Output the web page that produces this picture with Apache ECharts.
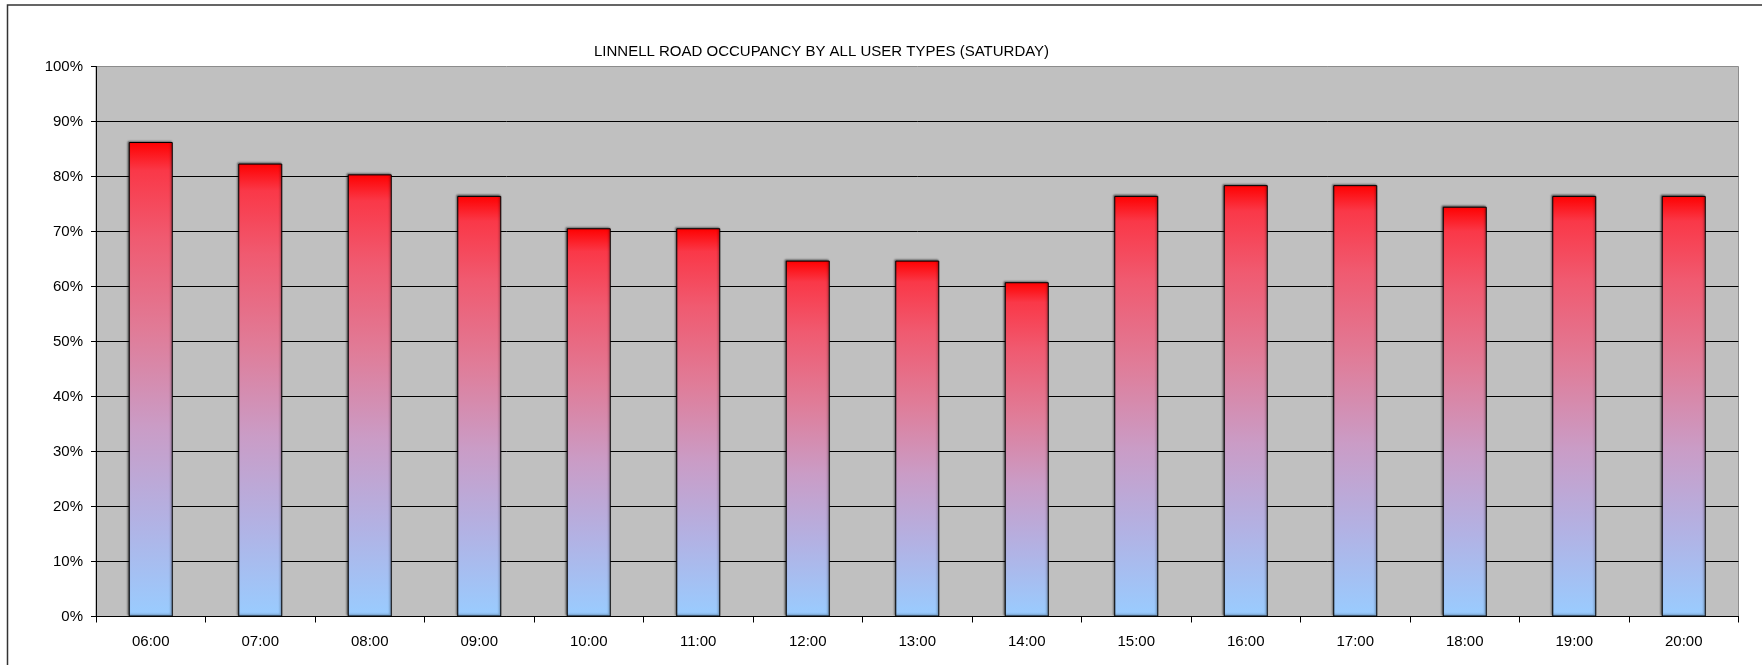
<!DOCTYPE html>
<html>
<head>
<meta charset="utf-8">
<script src="https://cdn.jsdelivr.net/npm/echarts@6/dist/echarts.min.js"></script>
<style>
html,body{margin:0;padding:0;background:#fff;}
#chart{width:1762px;height:665px;}
</style>
</head>
<body>
<div id="chart"></div>
<script>
const titleText = 'LINNELL ROAD OCCUPANCY BY ALL USER TYPES (SATURDAY)';
const categories = ['06:00','07:00','08:00','09:00','10:00','11:00','12:00','13:00','14:00','15:00','16:00','17:00','18:00','19:00','20:00'];
const occupancy = [86.27, 82.35, 80.39, 76.47, 70.59, 70.59, 64.71, 64.71, 60.78, 76.47, 78.43, 78.43, 74.51, 76.47, 76.47];

const chart = echarts.init(document.getElementById('chart'), null, {renderer: 'canvas'});
const font = 'Liberation Sans, Arial, sans-serif';
const barGradient = new echarts.graphic.LinearGradient(0, 0, 0, 1, [
  {offset: 0, color: '#FF0000'},
  {offset: 0.06, color: '#FA3848'},
  {offset: 0.2, color: '#F05A70'},
  {offset: 0.4, color: '#E07C98'},
  {offset: 0.6, color: '#CA9CC6'},
  {offset: 0.8, color: '#B2B2E4'},
  {offset: 1, color: '#99CCFF'}
]);
chart.setOption({
  animation: false,
  backgroundColor: '#ffffff',
  title: {
    text: titleText,
    left: 594,
    top: 44.5,
    padding: 0,
    textStyle: {fontFamily: font, fontSize: 15, fontWeight: 'normal', color: '#000'}
  },
  graphic: [{
    type: 'rect',
    shape: {x: 7.5, y: 5, width: 2000, height: 2000},
    style: {fill: 'none', stroke: '#333', lineWidth: 1.5},
    silent: true
  }],
  grid: {
    left: 96, right: 23.5, top: 66.5, bottom: 48.5,
    show: true, backgroundColor: '#C0C0C0', borderColor: '#8c8c8c', borderWidth: 1,
    containLabel: false
  },
  xAxis: {
    type: 'category',
    data: categories,
    axisLine: {lineStyle: {color: '#000', width: 1}},
    axisTick: {show: true, length: 6, lineStyle: {color: '#000'}},
    axisLabel: {fontFamily: font, fontSize: 15, color: '#000', margin: 18}
  },
  yAxis: {
    type: 'value',
    min: 0, max: 100, interval: 10,
    axisLine: {show: true, lineStyle: {color: '#000', width: 1}},
    axisTick: {show: true, length: 5, lineStyle: {color: '#000'}},
    axisLabel: {fontFamily: font, fontSize: 15, color: '#000', margin: 13, formatter: '{value}%'},
    splitLine: {show: true, showMaxLine: false, lineStyle: {color: '#000', width: 1}}
  },
  series: [{
    type: 'bar',
    data: occupancy,
    barWidth: 44,
    itemStyle: {
      color: barGradient,
      borderColor: '#000',
      borderWidth: 1,
      shadowColor: 'rgba(0,0,0,0.45)',
      shadowBlur: 2,
      shadowOffsetX: -1,
      shadowOffsetY: -1
    }
  }]
});
</script>
</body>
</html>
